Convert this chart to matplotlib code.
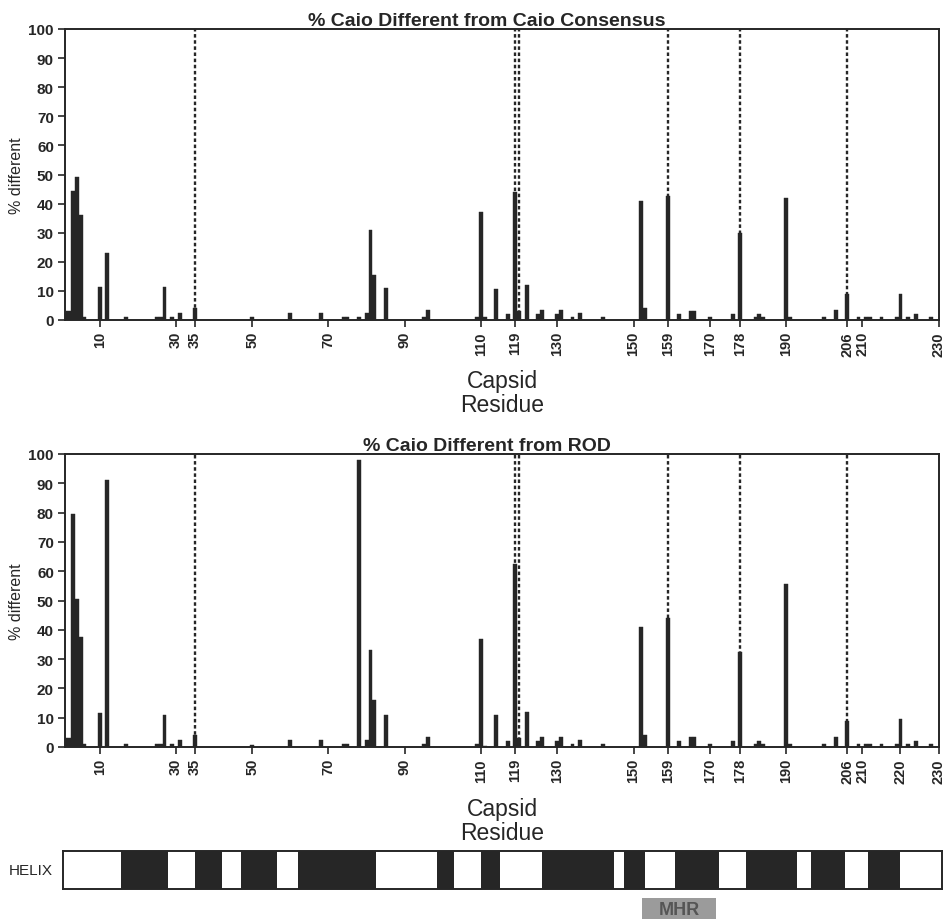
import numpy as np
import matplotlib
matplotlib.use('Agg')
from matplotlib import pyplot as plt
from matplotlib.patches import Rectangle

plt.rcParams['font.family'] = ['Liberation Sans', 'DejaVu Sans']

######### data ############
residues = [1, 2, 3, 4, 5, 6, 10, 12, 17, 25, 26, 27, 29, 31, 35, 50, 60, 68, 74, 75,
            78, 80, 81, 82, 85, 95, 96, 109, 110, 111, 114, 117, 119, 120, 122, 125, 126, 130, 131, 134,
            136, 142, 152, 153, 159, 162, 165, 166, 170, 176, 178, 182, 183, 184, 190, 191, 200, 203, 206, 209,
            211, 212, 215, 219, 220, 222, 224, 228]
pct_consensus = [3, 3, 44.5, 49, 36, 1, 11.5, 23, 1, 1, 1, 11.5, 1, 2.5, 4, 1, 2.5, 2.5, 1, 1,
                 1, 2.5, 31, 15.5, 11, 1, 3.5, 1, 37, 1, 10.5, 2, 44, 3, 12, 2, 3.5, 2, 3.5, 1,
                 2.5, 1, 41, 4, 42.5, 2, 3, 3, 1, 2, 30, 1, 2, 1, 42, 1, 1, 3.5, 9, 1,
                 1, 1, 1, 1, 9, 1, 2, 1]
pct_rod = [3, 3, 79.5, 50.5, 37.5, 1, 11.5, 91, 1, 1, 1, 11, 1, 2.5, 4, 0.7, 2.5, 2.5, 1, 1,
           98, 2.5, 33, 16, 11, 1, 3.5, 1, 37, 0.5, 11, 2, 62.5, 3, 12, 2, 3.5, 2, 3.5, 1,
           2.5, 1, 41, 4, 44, 2, 3.5, 3.5, 1, 2, 32.5, 1, 2, 1, 55.5, 1, 1, 3.5, 9, 1,
           1, 1, 1, 1, 9.5, 1, 2, 1]

marked = [35, 119, 120, 159, 178, 206]
ticks_top = [10, 30, 35, 50, 70, 90, 110, 119, 130, 150, 159, 170, 178, 190, 206, 210, 230]
ticks_bottom = [10, 30, 35, 50, 70, 90, 110, 119, 130, 150, 159, 170, 178, 190, 206, 210, 220, 230]

helix_start = [15.5, 35, 47, 62, 98.5, 110, 126, 147.5, 161, 179.5, 196.5, 211.5]
helix_end = [28, 42, 56.5, 82.5, 103, 115, 145, 153, 172.5, 193, 205.5, 220]
mhr = (152.3, 171.6)
############################

W, H = 947, 920
ink = '#262626'
fig = plt.figure(figsize=(W / 100, H / 100), dpi=100)


def px_axes(x0, y0, x1, y1):
    return fig.add_axes([x0 / W, 1 - y1 / H, (x1 - x0) / W, (y1 - y0) / H])


def panel(ax, vals, title, ticks):
    ax.bar(residues, vals, width=1.0, color=ink, edgecolor=ink, linewidth=0.3, zorder=2)
    for m in marked:
        ax.plot([m, m], [0, 100], color=ink, lw=1.7, ls=(0, (1.5, 1.1)), zorder=3)
    ax.set_xlim(0.9, 230.1)
    ax.set_ylim(0, 100)
    ax.set_yticks(np.arange(0, 101, 10))
    ax.set_xticks(ticks)
    ax.set_xticklabels([str(t) for t in ticks], rotation=90, fontweight='bold', fontsize=10.5)
    for lab in ax.get_yticklabels():
        lab.set_fontweight('bold')
        lab.set_fontsize(11)
    ax.tick_params(direction='out', length=5, width=1.2, color=ink, labelcolor=ink, pad=3)
    for s in ax.spines.values():
        s.set_linewidth(1.4)
        s.set_color(ink)
    ax.set_ylabel('% different', fontsize=11.5, color=ink)
    ax.yaxis.set_label_coords(-0.047, 0.5)
    ax.set_xlabel('Capsid\nResidue', fontsize=16.5, color=ink, linespacing=1.05)
    ax.xaxis.set_label_coords(0.5, -0.17)
    ax.set_title(title, fontsize=14, fontweight='bold', color=ink, x=0.483, pad=3)


ax1 = px_axes(65, 30, 939, 321)
panel(ax1, pct_consensus, '% Caio Different from Caio Consensus', ticks_top)

ax2 = px_axes(65, 455, 939, 748)
panel(ax2, pct_rod, '% Caio Different from ROD', ticks_bottom)

# helix map
axh = px_axes(63, 852, 942, 890)
axh.set_xlim(0.4, 230.9)
axh.set_ylim(0, 1)
for a, b in zip(helix_start, helix_end):
    axh.add_patch(Rectangle((a, 0), b - a, 1, facecolor=ink, edgecolor='none'))
axh.set_xticks([])
axh.set_yticks([])
for s in axh.spines.values():
    s.set_linewidth(1.4)
    s.set_color(ink)
axh.text(-0.012, 0.5, 'HELIX', transform=axh.transAxes, ha='right', va='center',
         fontsize=11, color=ink)
axh.add_patch(Rectangle((mhr[0], -0.82), mhr[1] - mhr[0], 0.58, facecolor='#9b9b9b',
                        edgecolor='none', clip_on=False))
axh.text((mhr[0] + mhr[1]) / 2, -0.53, 'MHR', ha='center', va='center', fontsize=13,
         fontweight='bold', color='#555555', clip_on=False)

fig.savefig('out.png', dpi=100)
